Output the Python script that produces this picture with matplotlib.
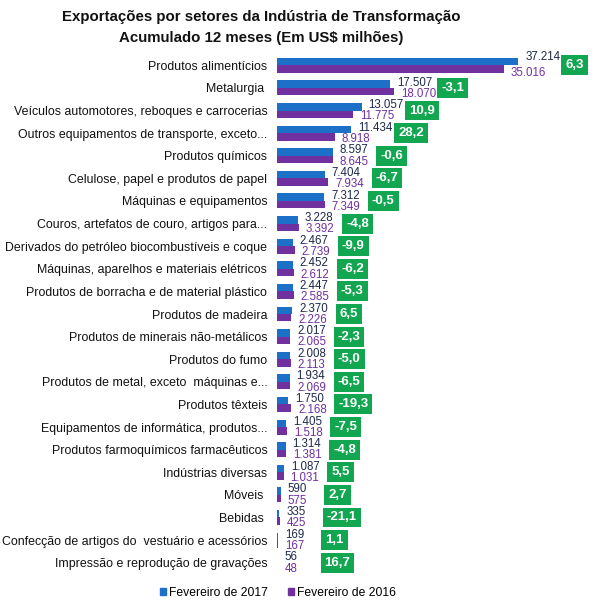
import matplotlib
matplotlib.use("Agg")
import matplotlib.pyplot as plt
from matplotlib.patches import Patch

plt.rcParams['font.family'] = ['Liberation Sans', 'DejaVu Sans']

categories = [
    "Produtos alimentícios",
    "Metalurgia ",
    "Veículos automotores, reboques e carrocerias",
    "Outros equipamentos de transporte, exceto...",
    "Produtos químicos",
    "Celulose, papel e produtos de papel",
    "Máquinas e equipamentos",
    "Couros, artefatos de couro, artigos para...",
    "Derivados do petróleo biocombustíveis e coque",
    "Máquinas, aparelhos e materiais elétricos",
    "Produtos de borracha e de material plástico",
    "Produtos de madeira",
    "Produtos de minerais não-metálicos",
    "Produtos do fumo",
    "Produtos de metal, exceto  máquinas e...",
    "Produtos têxteis",
    "Equipamentos de informática, produtos...",
    "Produtos farmoquímicos farmacêuticos",
    "Indústrias diversas",
    "Móveis ",
    "Bebidas ",
    "Confecção de artigos do  vestuário e acessórios",
    "Impressão e reprodução de gravações",
]
fev2017 = [37214, 17507, 13057, 11434, 8597, 7404, 7312, 3228, 2467, 2452, 2447,
           2370, 2017, 2008, 1934, 1750, 1405, 1314, 1087, 590, 335, 169, 56]
fev2016 = [35016, 18070, 11775, 8918, 8645, 7934, 7349, 3392, 2739, 2612, 2585,
           2226, 2065, 2113, 2069, 2168, 1518, 1381, 1031, 575, 425, 167, 48]
variacao = ["6,3", "-3,1", "10,9", "28,2", "-0,6", "-6,7", "-0,5", "-4,8", "-9,9",
            "-6,2", "-5,3", "6,5", "-2,3", "-5,0", "-6,5", "-19,3", "-7,5", "-4,8",
            "5,5", "2,7", "-21,1", "1,1", "16,7"]

def fmt(v):
    return f"{v:,}".replace(",", ".")

BLUE = "#1C70C8"
PURPLE = "#7030A0"
GREEN = "#12A650"
NAVY = "#1F2A4A"

fig = plt.figure(figsize=(6.04, 6.09), dpi=100)
n = len(categories)
top_px, bot_px = 54, 574
ax = fig.add_axes([277/604, (609-bot_px)/609, 324/604, (bot_px-top_px)/609])

ys = list(range(n))
h = 0.33
ax.barh([y - h/2 for y in ys], fev2017, height=h, color=BLUE)
ax.barh([y + h/2 for y in ys], fev2016, height=h, color=PURPLE)
ax.set_ylim(n - 0.5, -0.5)
ax.set_xlim(0, 50000)

for i, (y, a, b, v) in enumerate(zip(ys, fev2017, fev2016, variacao)):
    up, dn = (3.5, -3.0) if i == 0 else (1.2, -1.5)
    ax.annotate(fmt(a), (a, y - h/2), xytext=(5, up), textcoords="offset points",
                ha="left", va="center", fontsize=8.3, color=NAVY)
    ax.annotate(fmt(b), (b, y + h/2), xytext=(5, dn), textcoords="offset points",
                ha="left", va="center", fontsize=8.3, color=PURPLE)
    ax.annotate(v, (max(a, b), y), xytext=(34, 0), textcoords="offset points",
                ha="left", va="center", fontsize=9.5, fontweight="bold", color="white",
                bbox=dict(boxstyle="square,pad=0.3", fc=GREEN, ec="none"))

ax.set_yticks(ys)
ax.set_yticklabels(categories, fontsize=8.9, color="#111111")
ax.tick_params(axis="y", length=0, pad=7)
ax.set_xticks([])
for s in ax.spines.values():
    s.set_visible(False)

fig.text(261/604, 1 - 17/609, "Exportações por setores da Indústria de Transformação",
         ha="center", va="center", fontsize=10.8, fontweight="bold", color="#111111")
fig.text(261/604, 1 - 38/609, "Acumulado 12 meses (Em US$ milhões)",
         ha="center", va="center", fontsize=10.8, fontweight="bold", color="#111111")

handles = [Patch(color=BLUE, label="Fevereiro de 2017"),
           Patch(color=PURPLE, label="Fevereiro de 2016")]
fig.legend(handles=handles, loc="center", bbox_to_anchor=(278/604, 1 - 593/609),
           ncol=2, frameon=False, fontsize=8.7, handlelength=0.5, handleheight=0.5,
           handletextpad=0.3, columnspacing=1.6)

fig.savefig("out.png", dpi=100)
